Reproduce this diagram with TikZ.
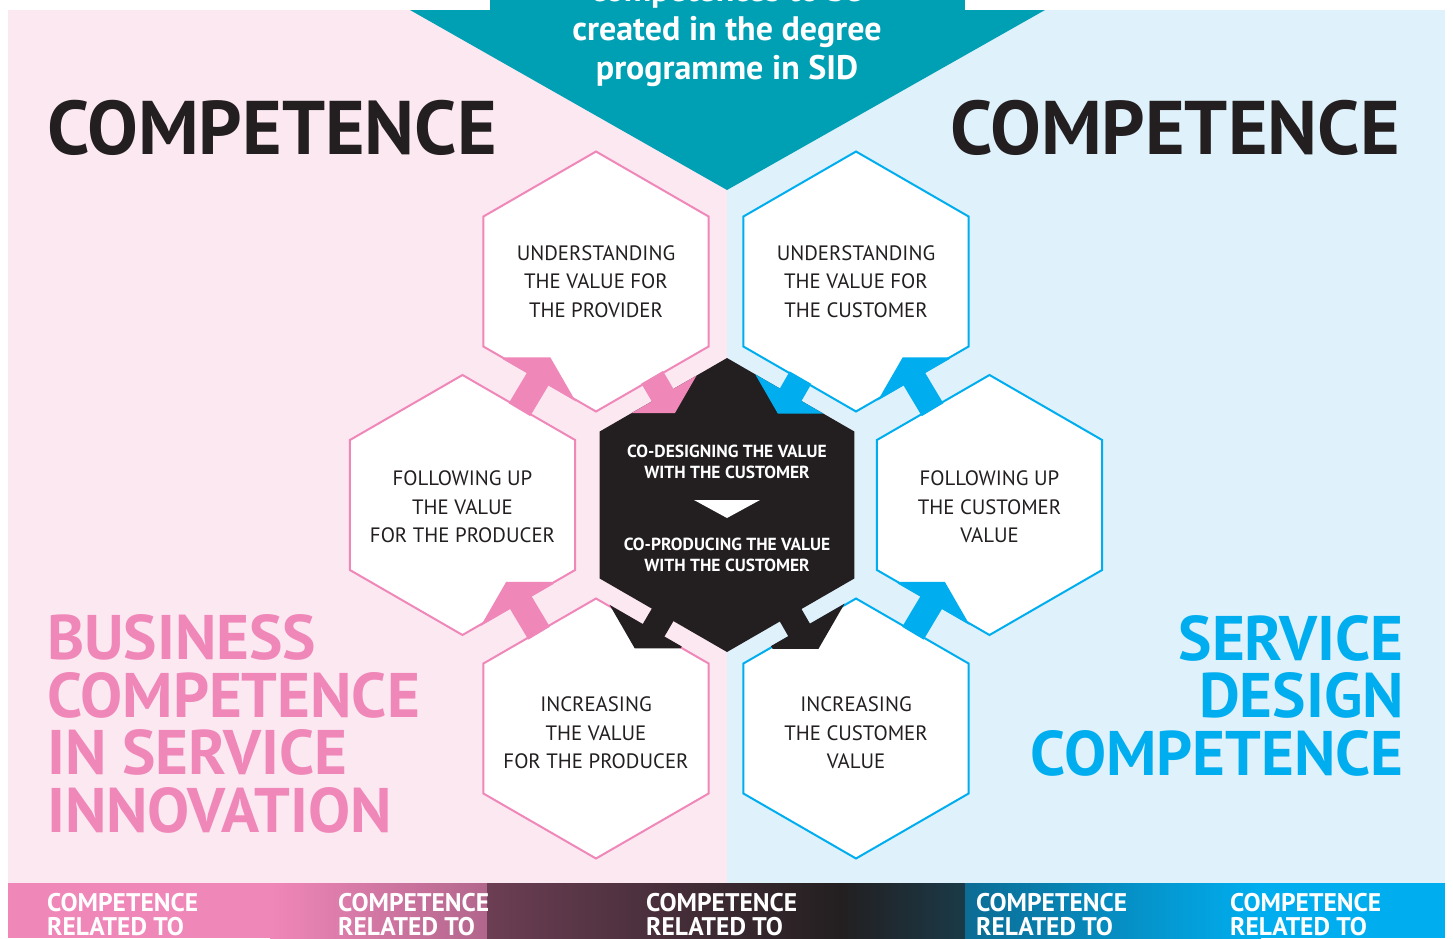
\documentclass[tikz,border=0pt]{standalone}
\usepackage{fontspec}
\setmainfont{PT Sans}
\usetikzlibrary{calc}

\definecolor{bgpink}{RGB}{252,232,241}
\definecolor{bgblue}{RGB}{223,241,251}
\definecolor{sidteal}{RGB}{0,160,180}
\definecolor{bizpink}{RGB}{240,135,185}
\definecolor{sdblue}{RGB}{0,174,239}
\definecolor{inkdark}{RGB}{35,31,32}
\definecolor{barmauve}{RGB}{178,102,140}
\definecolor{barplum}{RGB}{108,62,84}
\definecolor{bardeep}{RGB}{26,58,72}
\definecolor{barteal}{RGB}{12,108,148}

% pointy-top hexagon round a named coordinate
\newcommand\hexagon[2]{($(#1)+(90:#2)$) -- ($(#1)+(30:#2)$) -- ($(#1)+(-30:#2)$) -- ($(#1)+(-90:#2)$) -- ($(#1)+(-150:#2)$) -- ($(#1)+(150:#2)$) -- cycle}

\begin{document}
\begin{tikzpicture}[x=1pt,y=-1pt,
  hextext/.style={align=center,text=inkdark,inner sep=0pt,font=\fontsize{20.8}{28.5}\selectfont},
  cotext/.style={align=center,text=white,inner sep=0pt,font=\bfseries\fontsize{17.5}{21}\selectfont},
  headtext/.style={inner sep=0pt,text=inkdark,font=\bfseries\fontsize{76}{80}\selectfont},
  bigtext/.style={inner sep=0pt,font=\bfseries\fontsize{63}{57.5}\selectfont},
  bannertext/.style={inner sep=0pt,text=white,font=\bfseries\fontsize{34}{39}\selectfont},
  bartext/.style={inner sep=0pt,text=white,align=left,font=\bfseries\fontsize{25.5}{24}\selectfont}]
	\useasboundingbox (0,0) rectangle (1453,938);
	\clip (0,0) rectangle (1453,938);
	\fill[white] (0,0) rectangle (1453,938);
	\fill[bgpink] (8,10) rectangle (727,883);
	\fill[bgblue] (727,10) rectangle (1445,883);
	% banner
	\fill[sidteal] (490,0) rectangle (965,10);
	\fill[sidteal] (410,10) -- (1045,10) -- (727,190) -- cycle;
	\node[bannertext,anchor=base] (bannera) at (727,1) {competences to be};
	\node[bannertext,anchor=base] (bannerb) at (727,40) {created in the degree};
	\node[bannertext,anchor=base] (bannerc) at (727,79) {programme in SID};
	\node[headtext,anchor=west] (competenceleft) at (47,128) {COMPETENCE};
	\node[headtext,anchor=east] (competenceright) at (1400,128) {COMPETENCE};

	% honeycomb
	\coordinate (provider) at (596,281.5);
	\coordinate (customer) at (856,281.5);
	\coordinate (followprod) at (462.5,505);
	\coordinate (followcust) at (989.5,505);
	\coordinate (incprod) at (596,728.5);
	\coordinate (inccust) at (856,728.5);
	\coordinate (cocreate) at (727,505);
	\foreach \h/\col in {provider/bizpink,followprod/bizpink,incprod/bizpink,customer/sdblue,followcust/sdblue,inccust/sdblue}
		\filldraw[fill=white,draw=\col,line width=2pt] \hexagon{\h}{130};
	\fill[inkdark] \hexagon{cocreate}{147};

	% arrow heads, cut to the hexagon they point into
	\foreach \src/\tgt/\pos/\col/\dx/\dy/\sgn/\rad in {
		followprod/provider/0.5/bizpink/-2/-36/1/131.5,
		incprod/followprod/0.5/bizpink/0/-35/1/131.5,
		followcust/customer/0.5/sdblue/3/-36/1/131.5,
		inccust/followcust/0.5/sdblue/-1/-35/1/131.5,
		provider/cocreate/122.4pt/bizpink/-6/26/-1/147,
		customer/cocreate/122.4pt/sdblue/6/26/-1/147,
		cocreate/incprod/137.1pt/inkdark/0/25/-1/131.5,
		cocreate/inccust/137.1pt/inkdark/0/25/-1/131.5}
	{
		\coordinate (tip) at ($(\src)!\pos!(\tgt)+(\dx,\dy)$);
		\begin{scope}
			\clip \hexagon{\tgt}{\rad};
			\fill[\col] ($(tip)+(-23,0)$) -- ($(tip)+(23,0)$) -- ($(tip)+(57.6,\sgn*60)$) -- ($(tip)+(-57.6,\sgn*60)$) -- cycle;
		\end{scope}
	}
	% arrow stems across the gaps
	\foreach \src/\tgt/\da/\db/\col in {
		followprod/provider/111pt/111pt/bizpink,
		incprod/followprod/111pt/111pt/bizpink,
		followcust/customer/111pt/111pt/sdblue,
		inccust/followcust/111pt/111pt/sdblue,
		provider/cocreate/111pt/125pt/bizpink,
		customer/cocreate/111pt/125pt/sdblue,
		cocreate/incprod/125pt/111pt/inkdark,
		cocreate/inccust/125pt/111pt/inkdark}
	{
		\coordinate (stema) at ($(\src)!\da!(\tgt)$);
		\coordinate (stemb) at ($(\tgt)!\db!(\src)$);
		\fill[\col] ($(stema)!12.5pt!90:(stemb)$) -- ($(stema)!12.5pt!-90:(stemb)$) -- ($(stemb)!12.5pt!90:(stema)$) -- ($(stemb)!12.5pt!-90:(stema)$) -- cycle;
	}

	\node[hextext] (providertxt) at (provider) {UNDERSTANDING\\THE VALUE FOR\\THE PROVIDER};
	\node[hextext] (customertxt) at (customer) {UNDERSTANDING\\THE VALUE FOR\\THE CUSTOMER};
	\node[hextext] (followprodtxt) at ($(followprod)+(0,2)$) {FOLLOWING UP\\THE VALUE\\FOR THE PRODUCER};
	\node[hextext] (followcusttxt) at ($(followcust)+(0,2)$) {FOLLOWING UP\\THE CUSTOMER\\VALUE};
	\node[hextext] (incprodtxt) at ($(incprod)+(0,4.5)$) {INCREASING\\THE VALUE\\FOR THE PRODUCER};
	\node[hextext] (inccusttxt) at ($(inccust)+(0,4.5)$) {INCREASING\\THE CUSTOMER\\VALUE};
	\node[cotext] (codesign) at ($(cocreate)+(0,-43.5)$) {CO-DESIGNING THE VALUE\\WITH THE CUSTOMER};
	\node[cotext] (coproduce) at ($(cocreate)+(0,49.5)$) {CO-PRODUCING THE VALUE\\WITH THE CUSTOMER};
	\fill[white] ($(cocreate)+(-33,-5)$) -- ($(cocreate)+(33,-5)$) -- ($(cocreate)+(0,13)$) -- cycle;

	\node[bigtext,text=bizpink,align=left,anchor=west] (business) at (47,724) {BUSINESS\\COMPETENCE\\IN SERVICE\\INNOVATION};
	\node[bigtext,text=sdblue,align=right,anchor=east] (servicedesign) at (1404,695.5) {SERVICE\\DESIGN\\COMPETENCE};

	% bottom bar
	\fill[bizpink] (8,883) rectangle (271,938);
	\shade[left color=bizpink,right color=barmauve] (270,883) rectangle (487,938);
	\shade[left color=barplum,right color=inkdark] (487,883) rectangle (841,938);
	\shade[left color=inkdark,right color=bardeep] (840,883) rectangle (965,938);
	\shade[left color=barteal,right color=sdblue] (965,883) rectangle (1261,938);
	\fill[sdblue] (1260,883) rectangle (1445,938);
	\foreach \x/\n in {47/bara,338/barb,646/barc,976/bard,1230/bare}
		\node[bartext,anchor=north west] (\n) at (\x,893.5) {COMPETENCE\\RELATED TO};
\end{tikzpicture}
\end{document}
